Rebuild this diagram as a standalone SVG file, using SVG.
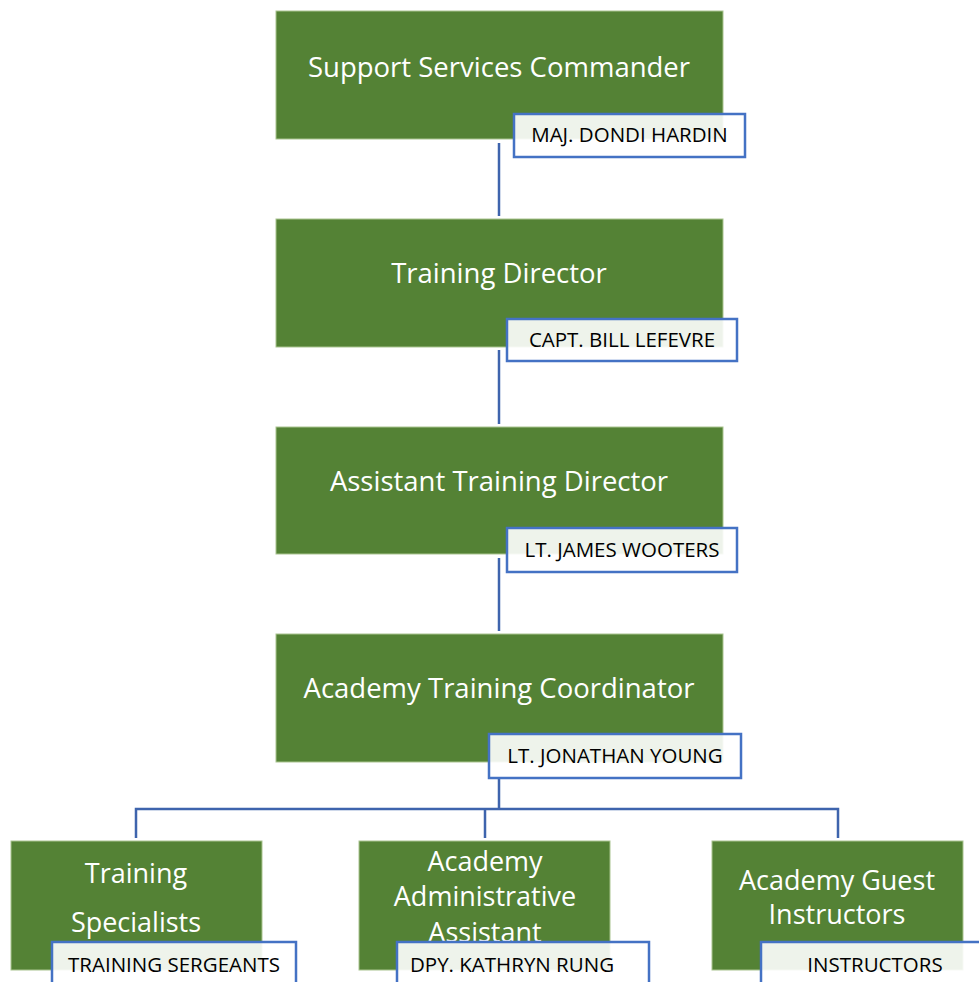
<svg xmlns="http://www.w3.org/2000/svg" width="979" height="982" viewBox="0 0 979 982">
<style>
.box{fill:#548235;stroke:#a9c48f;stroke-width:1}
.lbl{fill:#ffffff;fill-opacity:0.9;stroke:#4472c4;stroke-width:2.5}
.t{font-family:"Open Sans","Liberation Sans",sans-serif;font-size:27.5px;fill:#ffffff;text-anchor:middle}
.b{font-family:"Open Sans","Liberation Sans",sans-serif;font-size:27px;fill:#ffffff;text-anchor:middle}
.l{font-family:"Open Sans","Liberation Sans",sans-serif;font-size:20.5px;fill:#000000;text-anchor:middle}
.c{fill:none;stroke:#3e64ad;stroke-width:2.5}
</style>
<rect width="979" height="982" fill="#ffffff"/>
<g id="connectors">
<line class="c" x1="499" y1="143" x2="499" y2="216"/>
<line class="c" x1="499" y1="350" x2="499" y2="424"/>
<line class="c" x1="499" y1="558" x2="499" y2="631"/>
<path class="c" d="M499 778 V809 M136 838 V809 H838 V838 M485 809 V838"/>
</g>
<g id="n1">
<rect class="box" x="276" y="11" width="447" height="128"/>
<text class="t" x="499" y="77">Support Services Commander</text>
<rect class="lbl" x="514" y="114" width="231" height="43"/>
<text class="l" x="629.5" y="142">MAJ. DONDI HARDIN</text>
</g>
<g id="n2">
<rect class="box" x="276" y="219" width="447" height="128"/>
<text class="t" x="499" y="283">Training Director</text>
<rect class="lbl" x="507" y="319" width="230" height="42"/>
<text class="l" x="622" y="347">CAPT. BILL LEFEVRE</text>
</g>
<g id="n3">
<rect class="box" x="276" y="427" width="447" height="127"/>
<text class="t" x="499" y="491">Assistant Training Director</text>
<rect class="lbl" x="507" y="528" width="230" height="44"/>
<text class="l" x="622" y="557">LT. JAMES WOOTERS</text>
</g>
<g id="n4">
<rect class="box" x="276" y="634" width="447" height="128"/>
<text class="t" x="499" y="698">Academy Training Coordinator</text>
<rect class="lbl" x="489" y="734" width="252" height="44"/>
<text class="l" x="615" y="763">LT. JONATHAN YOUNG</text>
</g>
<g id="n5">
<rect class="box" x="11" y="841" width="251" height="129"/>
<text class="b" x="136" y="883">Training</text>
<text class="b" x="136" y="932">Specialists</text>
<rect class="lbl" x="52" y="942" width="244" height="50"/>
<text class="l" x="174" y="972">TRAINING SERGEANTS</text>
</g>
<g id="n6">
<rect class="box" x="359" y="841" width="251" height="129"/>
<text class="b" x="485" y="871">Academy</text>
<text class="b" x="485" y="906">Administrative</text>
<text class="b" x="485" y="942">Assistant</text>
<rect class="lbl" x="397" y="942" width="252" height="50"/>
<text class="l" x="512" y="972">DPY. KATHRYN RUNG</text>
</g>
<g id="n7">
<rect class="box" x="712" y="841" width="251" height="129"/>
<text class="b" x="837" y="890">Academy Guest</text>
<text class="b" x="837" y="924">Instructors</text>
<rect class="lbl" x="761" y="942" width="240" height="50"/>
<text class="l" x="875" y="972">INSTRUCTORS</text>
</g>
</svg>
